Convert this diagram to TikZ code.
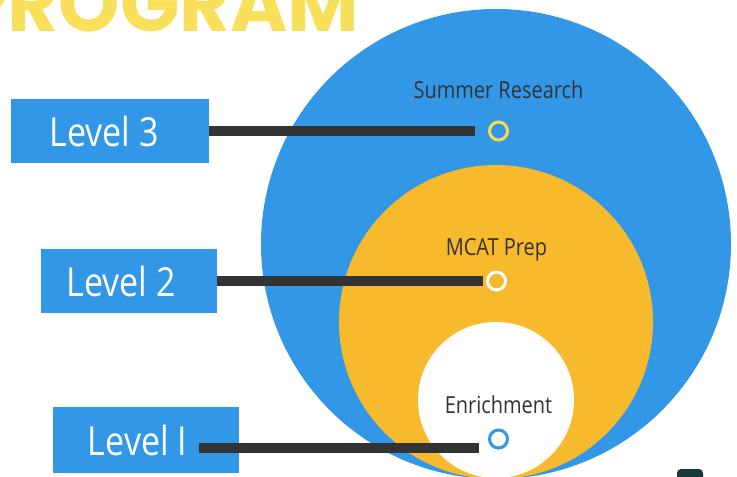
\documentclass[tikz,border=0pt]{standalone}
\usepackage{fontspec}
\setmainfont[FakeStretch=0.85]{Open Sans}
\newfontfamily\titlefont{Poppins}

\definecolor{skyblue}{HTML}{3397E8}
\definecolor{mustard}{HTML}{F7BA2C}
\definecolor{bargray}{HTML}{333333}
\definecolor{titleyellow}{HTML}{F9E05B}
\definecolor{ringyellow}{HTML}{F8DC4B}
\definecolor{labelgray}{HTML}{333333}
\definecolor{darkteal}{HTML}{173B3B}

\tikzset{
    levelbox/.style={fill=skyblue, text=white, inner sep=0pt, minimum height=64pt, font=\fontsize{40}{40}\selectfont},
    ring/.style={draw, circle, line width=3pt, inner sep=0pt, minimum size=18pt},
    bar/.style={bargray, line width=10pt},
    tag/.style={anchor=base, text=labelgray, font=\fontsize{23.5}{23.5}\selectfont},
}

\begin{document}
\begin{tikzpicture}[x=1pt, y=-1pt]
        \useasboundingbox (0,0) rectangle (737,477);
        \clip (0,0) rectangle (737,477);

        \draw (363,31) node[anchor=base east, text=titleyellow, font=\titlefont\bfseries\fontsize{78}{78}\selectfont] (title) {PROGRAM};

        \fill[skyblue] (496,244) circle (235pt);
        \fill[mustard] (496,322) circle (157pt);
        \fill[white] (496,400) circle (78pt);
        \fill[darkteal, rounded corners=4pt] (677,469) rectangle (703,490);

        \draw (110,131) node[levelbox, minimum width=198pt] (lvl3) {Level 3\hspace*{12pt}};
        \draw (129,281) node[levelbox, minimum width=176pt] (lvl2) {Level 2\hspace*{16pt}};
        \draw (146,440) node[levelbox, minimum width=186pt, minimum height=66pt] (lvl1) {Level I\hspace*{17pt}};

        \draw (498.5,131) node[ring, draw=ringyellow] (m3) {};
        \draw (496.5,281) node[ring, draw=white] (m2) {};
        \draw (498.5,439) node[ring, draw=skyblue] (m1) {};

        \draw ([yshift=33pt]m3.center) node[tag] (t3) {Summer Research};
        \draw ([yshift=26pt]m2.center) node[tag] (t2) {MCAT Prep};
        \draw ([yshift=26pt]m1.center) node[tag] (t1) {Enrichment};

        \coordinate (b1) at (199,448);
        \draw[bar, shorten >=13pt] (lvl3) -- (m3);
        \draw[bar, shorten >=3pt] (lvl2) -- (m2);
        \draw[bar, shorten >=9pt] (b1) -- (b1 -| m1.west);
    \end{tikzpicture}
\end{document}
